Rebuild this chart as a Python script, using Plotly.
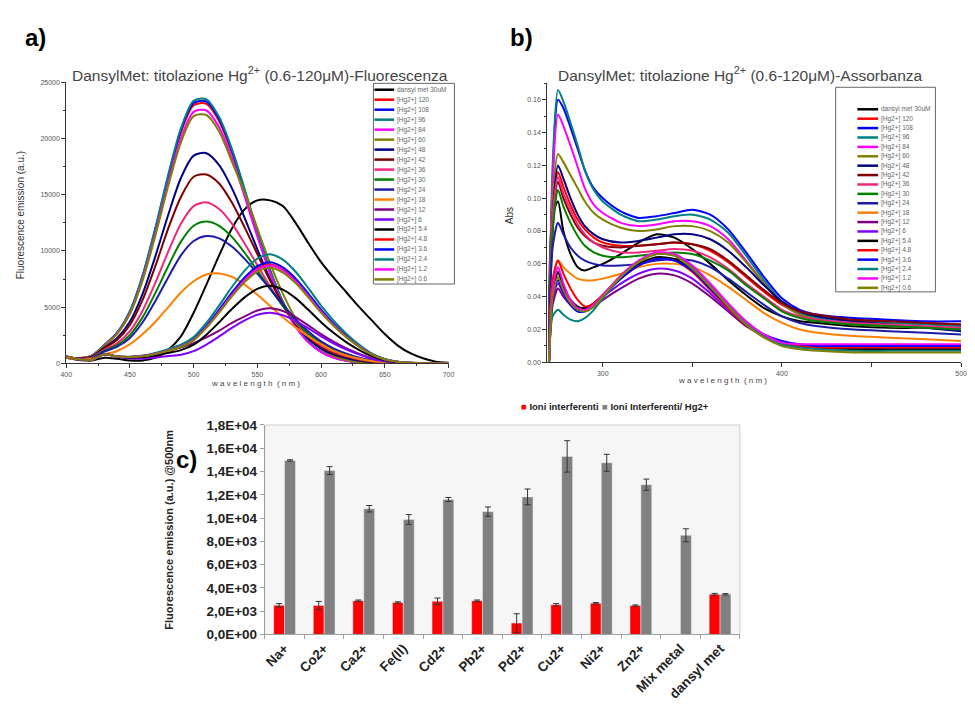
import plotly.graph_objects as go

W, H = 975, 710
def px(x): return x / W
def py(y): return 1 - y / H

FONT = "Liberation Sans, Arial, sans-serif"

# ---------------- legend / colours shared by panels a and b ----------------
legend_labels = ["dansyl met 30uM", "[Hg2+] 120", "[Hg2+] 108", "[Hg2+] 96", "[Hg2+] 84",
                 "[Hg2+] 60", "[Hg2+] 48", "[Hg2+] 42", "[Hg2+] 36", "[Hg2+] 30",
                 "[Hg2+] 24", "[Hg2+] 18", "[Hg2+] 12", "[Hg2+] 6", "[Hg2+] 5.4",
                 "[Hg2+] 4.8", "[Hg2+] 3.6", "[Hg2+] 2.4", "[Hg2+] 1.2", "[Hg2+] 0.6"]
colors = ["#000000", "#ff0000", "#0000ff", "#008080", "#ff00ff", "#808000", "#000080",
          "#800000", "#f0287a", "#008000", "#1c1ca8", "#ff8000", "#800080", "#8000ff",
          "#000000", "#ff0000", "#0000ff", "#008080", "#ff00ff", "#808000"]

# ---------------- panel a: fluorescence ----------------
fl_wl = [400, 410, 420, 430, 440, 450, 460, 470, 480, 490, 500, 510, 520, 530, 540, 550,
         560, 570, 580, 590, 600, 610, 620, 630, 640, 650, 660, 670, 680, 690, 700]
fl_dansyl = [500,300,250,500,400,250,250,500,1200,2400,4500,7000,9600,12000,13700,14500,14500,14000,12500,10700,9000,7600,6300,5000,3800,2600,1600,900,450,150,50]
fl_hg120 = [550,460,670,1630,2710,4580,7720,11890,16470,20550,22970,23090,21550,18760,15240,11560,8180,5410,3330,1910,1030,510,230,90,50,0,0,0,0,0,0]
fl_hg108 = [550,460,670,1630,2730,4620,7790,11990,16610,20730,23170,23290,21740,18920,15370,11660,8250,5450,3360,1930,1030,520,240,90,50,0,0,0,0,0,0]
fl_hg96 = [550,470,680,1640,2750,4660,7850,12090,16760,20900,23370,23490,21920,19080,15500,11760,8320,5500,3390,1940,1040,520,240,100,50,0,0,0,0,0,0]
fl_hg84 = [550,460,660,1600,2660,4470,7530,11590,16050,20020,22380,22500,21000,18270,14850,11260,7970,5270,3250,1860,1000,500,230,90,50,0,0,0,0,0,0]
fl_hg60 = [540,460,650,1580,2620,4400,7400,11380,15770,19670,21990,22100,20630,17950,15200,12000,8900,6200,4000,2400,1300,650,300,90,50,0,0,0,0,0,0]
fl_hg48 = [540,430,580,1410,2260,3720,6210,9540,13200,16490,18480,18700,17640,15590,12950,10140,7490,5240,3470,2180,1310,770,440,220,120,30,10,0,0,0,0]
fl_hg42 = [530,420,550,1340,2090,3410,5660,8670,11990,14800,16600,16800,16000,14300,12100,9720,7360,5300,3620,2360,1480,910,550,300,150,45,15,0,0,0,0]
fl_hg36 = [530,400,500,1200,1800,2860,4700,7190,9930,12420,13990,14320,13730,12430,10660,8720,6810,5080,3600,2440,1600,1020,640,360,190,60,20,0,0,0,0]
fl_hg30 = [520,380,460,1120,1620,2520,4110,6270,8640,10830,12240,12620,12240,11250,9840,8250,6640,5110,3740,2620,1770,1160,740,420,220,75,25,0,0,0,0]
fl_hg24 = [520,370,440,1050,1480,2260,3650,5550,7640,9600,10880,11320,11120,10390,9290,7990,6620,5240,3930,2830,1950,1310,850,490,260,90,30,0,0,0,0]
fl_hg18 = [500,350,400,800,1100,1700,2600,3700,5000,6300,7300,7900,8000,7700,7000,6100,5100,4100,3200,2400,1700,1100,700,400,200,100,0,0,0,0,0]
fl_hg12 = [600,350,300,800,600,450,450,540,1100,1400,1800,2300,2900,3600,4170,4700,4900,4660,4120,3380,2600,1910,1320,830,440,200,70,30,0,0,0]
fl_hg6 = [600,350,300,800,600,440,430,510,640,770,1080,1670,2390,3150,3830,4320,4500,4280,3780,3110,2390,1760,1220,770,410,180,70,20,0,0,0]
fl_hg5_4 = [600,350,300,800,600,510,550,700,930,1170,1660,2550,3660,4830,5870,6620,6900,6560,5800,4760,3660,2690,1860,1170,620,280,100,30,0,0,0]
fl_hg4_8 = [600,350,300,800,600,560,640,850,1160,1500,2110,3260,4660,6160,7480,8450,8800,8360,7390,6070,4660,3430,2380,1500,790,350,130,40,0,0,0]
fl_hg3_6 = [600,350,300,800,600,570,650,870,1180,1530,2160,3330,4770,6300,7650,8640,9000,8550,7560,6210,4770,3510,2430,1530,810,360,140,50,0,0,0]
fl_hg2_4 = [600,350,300,800,600,590,690,930,1260,1650,2330,3590,5140,6790,8250,9310,9700,9220,8150,6690,5140,3780,2620,1650,870,390,150,50,0,0,0]
fl_hg1_2 = [600,350,300,800,600,560,640,850,1140,1480,2090,3220,4610,6090,7400,8350,8700,8270,7310,6000,4610,3390,2350,1480,780,350,130,40,0,0,0]
fl_hg0_6 = [600,350,300,800,600,560,630,830,1120,1450,2040,3150,4510,5950,7230,8160,8500,8080,7140,5870,4510,3320,2300,1450,770,340,130,40,0,0,0]
fl_series = [fl_dansyl, fl_hg120, fl_hg108, fl_hg96, fl_hg84, fl_hg60, fl_hg48, fl_hg42, fl_hg36,
             fl_hg30, fl_hg24, fl_hg18, fl_hg12, fl_hg6, fl_hg5_4, fl_hg4_8, fl_hg3_6, fl_hg2_4,
             fl_hg1_2, fl_hg0_6]

# ---------------- panel b: absorbance ----------------
ab_wl = [270, 272, 275, 278, 282, 286, 290, 295, 300, 310, 320, 330, 340, 350, 360, 370,
         380, 390, 400, 410, 420, 440, 460, 480, 500]
ab_dansyl = [0.035,0.09,0.098,0.08,0.066,0.058,0.056,0.058,0.060,0.066,0.073,0.078,0.076,0.069,0.060,0.050,0.041,0.033,0.028,0.025,0.024,0.022,0.021,0.021,0.021]
ab_hg120 = [0.01,0.09,0.116,0.107,0.096,0.087,0.081,0.076,0.073,0.071,0.071,0.072,0.073,0.072,0.068,0.061,0.052,0.043,0.035,0.030,0.028,0.026,0.025,0.024,0.023]
ab_hg108 = [0.01,0.11,0.160,0.155,0.143,0.130,0.117,0.106,0.100,0.092,0.088,0.089,0.091,0.093,0.090,0.081,0.067,0.052,0.039,0.032,0.029,0.027,0.026,0.025,0.025]
ab_hg96 = [0.01,0.12,0.166,0.159,0.146,0.132,0.117,0.105,0.098,0.090,0.086,0.087,0.089,0.090,0.087,0.079,0.065,0.050,0.037,0.030,0.027,0.025,0.024,0.023,0.022]
ab_hg84 = [0.01,0.11,0.151,0.144,0.132,0.119,0.106,0.096,0.091,0.085,0.083,0.084,0.086,0.086,0.083,0.075,0.062,0.048,0.036,0.029,0.026,0.024,0.022,0.021,0.020]
ab_hg60 = [0.01,0.10,0.127,0.122,0.114,0.106,0.098,0.091,0.087,0.082,0.080,0.081,0.083,0.083,0.080,0.073,0.061,0.048,0.036,0.029,0.026,0.023,0.022,0.021,0.020]
ab_hg48 = [0.01,0.09,0.120,0.112,0.100,0.090,0.083,0.078,0.075,0.073,0.074,0.076,0.078,0.078,0.075,0.068,0.058,0.047,0.037,0.031,0.028,0.025,0.023,0.021,0.019]
ab_hg42 = [0.01,0.08,0.110,0.100,0.090,0.082,0.077,0.073,0.071,0.070,0.071,0.072,0.073,0.072,0.069,0.062,0.053,0.044,0.036,0.031,0.029,0.026,0.025,0.024,0.023]
ab_hg36 = [0.01,0.09,0.113,0.103,0.093,0.084,0.078,0.073,0.070,0.067,0.067,0.068,0.069,0.068,0.064,0.057,0.048,0.040,0.032,0.028,0.026,0.024,0.023,0.022,0.021]
ab_hg30 = [0.01,0.08,0.105,0.095,0.085,0.077,0.071,0.067,0.065,0.064,0.065,0.066,0.067,0.066,0.062,0.056,0.047,0.039,0.031,0.027,0.025,0.023,0.022,0.021,0.020]
ab_hg24 = [0.01,0.07,0.085,0.078,0.070,0.065,0.062,0.060,0.059,0.059,0.060,0.062,0.063,0.062,0.058,0.051,0.043,0.035,0.028,0.024,0.022,0.020,0.019,0.018,0.017]
ab_hg18 = [0.0,0.05,0.062,0.058,0.054,0.051,0.050,0.050,0.051,0.054,0.058,0.060,0.060,0.058,0.053,0.046,0.038,0.030,0.024,0.020,0.018,0.016,0.015,0.014,0.013]
ab_hg12 = [0.0,0.035,0.045,0.040,0.035,0.032,0.032,0.034,0.038,0.045,0.051,0.054,0.053,0.048,0.040,0.031,0.022,0.016,0.012,0.010,0.009,0.009,0.008,0.008,0.008]
ab_hg6 = [0.0,0.04,0.048,0.042,0.036,0.033,0.033,0.036,0.040,0.048,0.054,0.057,0.056,0.051,0.042,0.032,0.023,0.016,0.012,0.010,0.009,0.009,0.009,0.009,0.009]
ab_hg5_4 = [0.0,0.04,0.055,0.046,0.038,0.034,0.033,0.036,0.041,0.052,0.060,0.064,0.063,0.056,0.045,0.034,0.024,0.016,0.012,0.010,0.009,0.008,0.008,0.008,0.008]
ab_hg4_8 = [0.0,0.05,0.062,0.054,0.045,0.038,0.034,0.036,0.041,0.051,0.059,0.063,0.062,0.055,0.044,0.033,0.023,0.016,0.012,0.010,0.009,0.009,0.009,0.009,0.009]
ab_hg3_6 = [0.0,0.04,0.050,0.043,0.035,0.031,0.031,0.034,0.040,0.051,0.059,0.063,0.062,0.056,0.045,0.034,0.024,0.017,0.013,0.011,0.010,0.010,0.010,0.010,0.010]
ab_hg2_4 = [0.0,0.028,0.032,0.029,0.026,0.025,0.027,0.032,0.039,0.052,0.061,0.066,0.065,0.058,0.047,0.035,0.024,0.016,0.011,0.009,0.008,0.007,0.007,0.007,0.007]
ab_hg1_2 = [0.0,0.045,0.058,0.048,0.038,0.033,0.032,0.035,0.041,0.053,0.062,0.067,0.066,0.059,0.048,0.036,0.025,0.017,0.012,0.011,0.011,0.011,0.011,0.011,0.011]
ab_hg0_6 = [0.0,0.04,0.052,0.044,0.036,0.032,0.031,0.034,0.040,0.052,0.061,0.066,0.065,0.057,0.046,0.034,0.023,0.015,0.010,0.008,0.007,0.006,0.006,0.006,0.006]
ab_series = [ab_dansyl, ab_hg120, ab_hg108, ab_hg96, ab_hg84, ab_hg60, ab_hg48, ab_hg42, ab_hg36,
             ab_hg30, ab_hg24, ab_hg18, ab_hg12, ab_hg6, ab_hg5_4, ab_hg4_8, ab_hg3_6, ab_hg2_4,
             ab_hg1_2, ab_hg0_6]

# ---------------- panel c: interfering ions ----------------
c_categories = ["Na+", "Co2+", "Ca2+", "Fe(II)", "Cd2+", "Pb2+", "Pd2+", "Cu2+", "Ni2+",
                "Zn2+", "Mix metal", "dansyl met"]
c_red = [2500, 2480, 2900, 2750, 2850, 2900, 980, 2550, 2680, 2480, None, 3450]
c_red_err = [150, 360, 60, 60, 280, 60, 800, 100, 60, 60, 0, 80]
c_gray = [14950, 14080, 10800, 9880, 11600, 10550, 11820, 15300, 14750, 12870, 8520, 3450]
c_gray_err = [60, 340, 280, 420, 170, 400, 680, 1350, 730, 480, 560, 60]
c_ytickvals = [0, 2000, 4000, 6000, 8000, 10000, 12000, 14000, 16000, 18000]
c_yticktext = ["0,0E+00", "2,0E+03", "4,0E+03", "6,0E+03", "8,0E+03", "1,0E+04",
               "1,2E+04", "1,4E+04", "1,6E+04", "1,8E+04"]

fig = go.Figure()

for name, col, ys in zip(legend_labels, colors, fl_series):
    fig.add_trace(go.Scatter(x=fl_wl, y=ys, mode="lines", name=name, showlegend=False,
                             line=dict(color=col, width=2, shape="spline", smoothing=0.8),
                             xaxis="x", yaxis="y"))
for name, col, ys in zip(legend_labels, colors, ab_series):
    fig.add_trace(go.Scatter(x=ab_wl, y=ys, mode="lines", name=name, showlegend=False,
                             line=dict(color=col, width=2, shape="spline", smoothing=0.7),
                             xaxis="x2", yaxis="y2"))

fig.add_trace(go.Bar(x=c_categories, y=c_red, name="Ioni interferenti", marker_color="#ff0000",
                     error_y=dict(type="data", array=c_red_err, color="#333333", thickness=1, width=3),
                     xaxis="x3", yaxis="y3", showlegend=False))
fig.add_trace(go.Bar(x=c_categories, y=c_gray, name="Ioni Interferenti/ Hg2+", marker_color="#808080",
                     error_y=dict(type="data", array=c_gray_err, color="#333333", thickness=1, width=3),
                     xaxis="x3", yaxis="y3", showlegend=False))

small = dict(family=FONT, size=7, color="#555555")
ax_common = dict(showline=True, linecolor="#333333", linewidth=1, ticks="outside", ticklen=4,
                 tickcolor="#333333", showgrid=False, zeroline=False, tickfont=small)
cfont = dict(family=FONT, size=13.5, color="#222222", weight="bold")

fig.update_layout(
    width=W, height=H, margin=dict(l=0, r=0, t=0, b=0),
    paper_bgcolor="white", plot_bgcolor="rgba(0,0,0,0)",
    font=dict(family=FONT),
    barmode="group", bargap=0.45, bargroupgap=0.0,
    xaxis=dict(domain=[px(61), px(448)], range=[400, 700], anchor="y",
               tickvals=[400, 450, 500, 550, 600, 650, 700],
               minor=dict(dtick=25, ticklen=2, ticks="outside", tickcolor="#333333"), **ax_common),
    yaxis=dict(domain=[py(364), py(77)], range=[0, 25000], anchor="x",
               tickvals=[0, 5000, 10000, 15000, 20000, 25000], tickformat="d",
               minor=dict(dtick=2500, ticklen=2, ticks="outside", tickcolor="#333333"), **ax_common),
    xaxis2=dict(domain=[px(548), px(967)], range=[269, 500], anchor="y2",
                tickvals=[300, 400, 500],
                minor=dict(dtick=50, ticklen=4, ticks="outside", tickcolor="#333333"), **ax_common),
    yaxis2=dict(domain=[py(363), py(78)], range=[0, 0.17], anchor="x2",
                tickvals=[0, 0.02, 0.04, 0.06, 0.08, 0.10, 0.12, 0.14, 0.16], tickformat=".2f",
                minor=dict(dtick=0.01, ticklen=2, ticks="outside", tickcolor="#333333"), **ax_common),
    xaxis3=dict(domain=[px(262), px(743)], anchor="y3", type="category", tickangle=-45,
                showline=True, linecolor="#a0a0a0", ticks="outside", ticklen=4, tickcolor="#a0a0a0",
                tickson="boundaries", showgrid=False, zeroline=False, tickfont=cfont),
    yaxis3=dict(domain=[py(641), py(427)], anchor="x3", range=[0, 18000],
                tickvals=c_ytickvals, ticktext=c_yticktext,
                showline=True, linecolor="#a0a0a0", ticks="outside", ticklen=4, tickcolor="#a0a0a0",
                showgrid=False, zeroline=False, tickfont=cfont),
)

shapes = []
annotations = []

# panel c plot background
shapes.append(dict(type="rect", xref="x3 domain", yref="y3 domain", x0=0, x1=1, y0=0, y1=1,
                   fillcolor="#f6f6f6", line=dict(color="#d0d0d0", width=1), layer="below"))

def legend_box(x0, x1, y0, y1, first_y, step, lx0, lx1, tx, fsize):
    shapes.append(dict(type="rect", xref="paper", yref="paper", x0=px(x0), x1=px(x1),
                       y0=py(y1), y1=py(y0), line=dict(color="#666666", width=1),
                       fillcolor="white", layer="above"))
    for i, (lab, col) in enumerate(zip(legend_labels, colors)):
        yy = first_y + i * step
        shapes.append(dict(type="line", xref="paper", yref="paper", x0=px(lx0), x1=px(lx1),
                           y0=py(yy), y1=py(yy), line=dict(color=col, width=2.5), layer="above"))
        annotations.append(dict(xref="paper", yref="paper", x=px(tx), y=py(yy), text=lab,
                                showarrow=False, xanchor="left", yanchor="middle",
                                font=dict(family=FONT, size=fsize, color="#666666")))

legend_box(372, 454, 78, 283, 84.5, 10.2, 373, 393, 394, 6.5)
legend_box(840, 941, 82, 291, 104.5, 9.6, 862, 883, 884, 6.5)

def ann(x, y, text, size, color="#333333", bold=False, angle=0, xanchor="center"):
    annotations.append(dict(xref="paper", yref="paper", x=px(x), y=py(y), text=text,
                            showarrow=False, xanchor=xanchor, yanchor="middle", textangle=angle,
                            font=dict(family=FONT, size=size, color=color,
                                      weight="bold" if bold else "normal")))

ann(30, 31, "a)", 24, "#000000", bold=True)
ann(522, 31, "b)", 24, "#000000", bold=True)
ann(183, 462, "c)", 24, "#000000", bold=True)

ann(257, 68, "DansylMet: titolazione Hg<sup>2+</sup> (0.6-120μM)-Fluorescenza", 15.5, "#444444")
ann(744, 68, "DansylMet: titolazione Hg<sup>2+</sup> (0.6-120μM)-Assorbanza", 15.5, "#444444")

ann(15, 213, "Fluorescence emission (a.u.)", 10, "#333333", angle=-90)
ann(253, 385, "w a v e l e n g t h  ( n m )", 8, "#444444")
ann(510, 213, "Abs", 10, "#333333", angle=-90)
ann(725, 382, "w a v e l e n g t h  ( n m )", 8, "#444444")

ann(165, 534, "Fluorescence emission (a.u.) @500nm", 11, "#222222", bold=True, angle=-90)

ann(519, 408, "<span style='color:#ff0000'>■</span> Ioni interferenti", 9.5, "#222222",
    bold=True, xanchor="left")
ann(601, 408, "<span style='color:#808080'>■</span> Ioni Interferenti/ Hg2+", 9.5, "#222222",
    bold=True, xanchor="left")

fig.update_layout(shapes=shapes, annotations=annotations)
fig.write_html("out.html")
